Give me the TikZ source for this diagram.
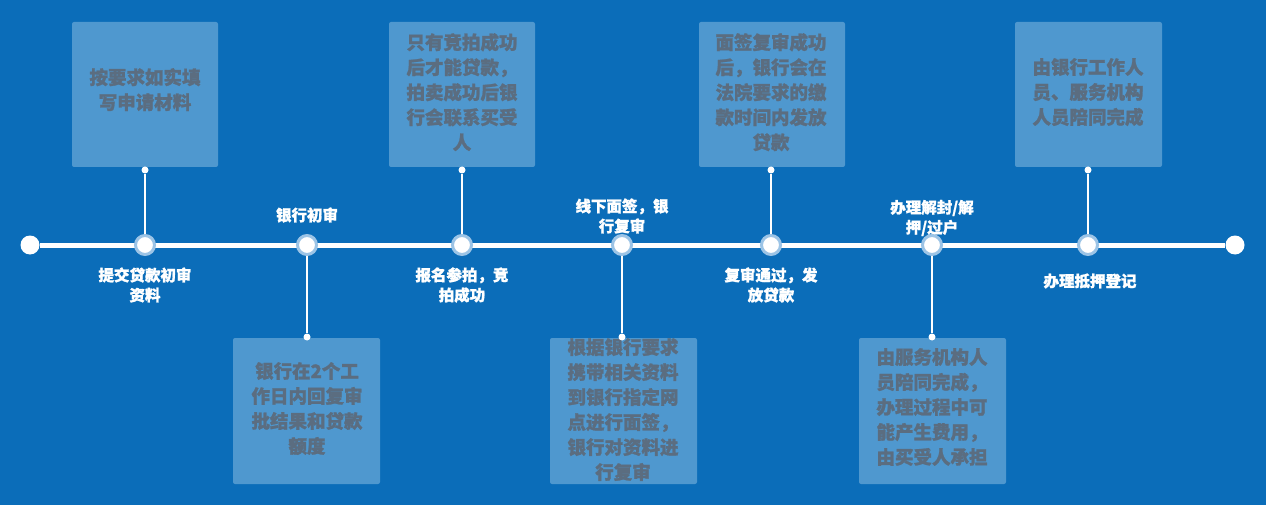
\documentclass[tikz,border=0pt]{standalone}
\usepackage{fontspec}
\newfontfamily\cjk[FakeBold=1.3]{Noto Sans CJK SC}
\definecolor{bg}{HTML}{0B6DB9}
\definecolor{bx}{HTML}{4F98CF}
\definecolor{tx}{HTML}{5B6D80}
\definecolor{halo}{HTML}{9CC4E6}
\begin{document}
\begin{tikzpicture}[x=1pt,y=-1pt,
  box/.style={fill=bx,draw=none,rounded corners=2pt},
  btxt/.style={text=tx,font=\cjk\bfseries\fontsize{18.5}{25}\selectfont,align=center,anchor=north,inner sep=0},
  lbl/.style={text=white,font=\cjk\bfseries\fontsize{15.5}{20}\selectfont,align=center,inner sep=0},
  pt/.style={circle,fill=white,draw=halo,line width=3pt,minimum size=19pt,inner sep=0},
  dot/.style={circle,fill=white,minimum size=7pt,inner sep=0},
  con/.style={white,line width=1.8pt}]
\fill[bg] (0,0) rectangle (1266,505);
\useasboundingbox (0,0) rectangle (1266,505);
\node[circle,fill=white,minimum size=19pt,inner sep=0] (L) at (30,245) {};
\node[circle,fill=white,minimum size=19pt,inner sep=0] (R) at (1235,245) {};
\draw[white,line width=5pt] (L) -- (R);
\fill[box] (72,22) rectangle (218,167);
\fill[box] (389,22) rectangle (535,167);
\fill[box] (699,22) rectangle (845,167);
\fill[box] (1015,22) rectangle (1162,167);
\fill[box] (233,338) rectangle (380,484);
\fill[box] (550,338) rectangle (697,484);
\fill[box] (859,338) rectangle (1006,484);
\node[btxt] (t1) at (145,68) {按要求如实填\\写申请材料};
\node[btxt] (t3) at (462,33) {只有竞拍成功\\后才能贷款，\\拍卖成功后银\\行会联系买受\\人};
\node[btxt] (t5) at (771,33) {面签复审成功\\后，银行会在\\法院要求的缴\\款时间内发放\\贷款};
\node[btxt] (t7) at (1088,58) {由银行工作人\\员、服务机构\\人员陪同完成};
\node[btxt] (t2) at (307,362) {银行在2个工\\作日内回复审\\批结果和贷款\\额度};
\node[btxt] (t4) at (623,338) {根据银行要求\\携带相关资料\\到银行指定网\\点进行面签，\\银行对资料进\\行复审};
\node[btxt] (t6) at (932,348) {由服务机构人\\员陪同完成，\\办理过程中可\\能产生费用，\\由买受人承担};
\foreach \n/\x/\d in {p1/145/d1,p3/462/d3,p5/771/d5,p7/1088/d7}{
  \node[dot] (\d) at (\x,170) {};
  \node[pt] (\n) at (\x,245) {};
  \draw[con] (\d) -- (\n);
}
\foreach \n/\x/\d in {p2/307/d2,p4/622/d4,p6/932/d6}{
  \node[dot] (\d) at (\x,337) {};
  \node[pt] (\n) at (\x,245) {};
  \draw[con] (\d) -- (\n);
}
\node[lbl] at (145,285) {提交贷款初审\\资料};
\node[lbl] at (462,285) {报名参拍，竞\\拍成功};
\node[lbl] at (771,285) {复审通过，发\\放贷款};
\node[lbl] at (1090,281) {办理抵押登记};
\node[lbl] at (307,215) {银行初审};
\node[lbl] at (622,216) {线下面签，银\\行复审};
\node[lbl] at (932,218) {办理解封/解\\押/过户};
\end{tikzpicture}
\end{document}
